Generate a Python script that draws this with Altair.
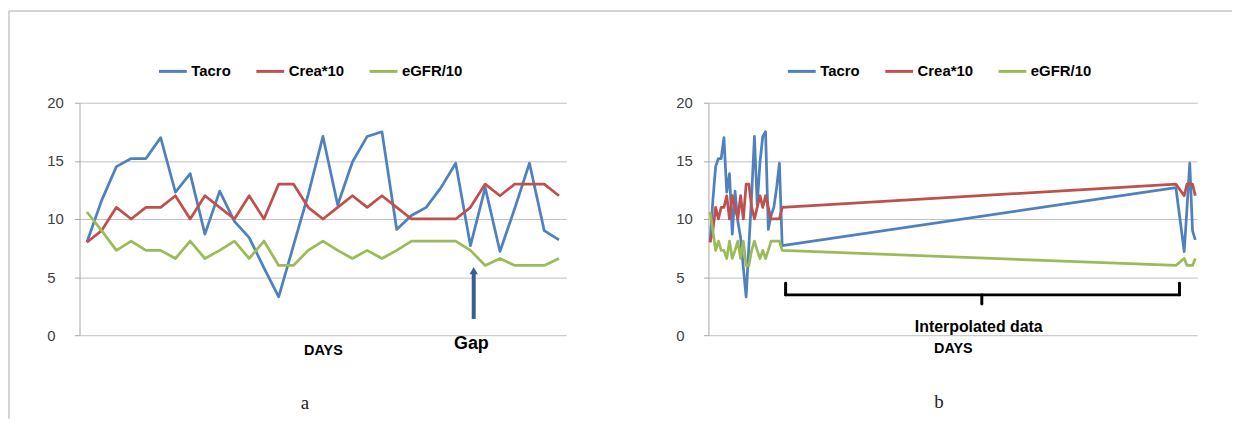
import altair as alt
import pandas as pd

# ---------------- data ----------------
series_names = ["Tacro", "Crea*10", "eGFR/10"]
series_colors = ["#4F81BD", "#C0504D", "#9BBB59"]

tacro = [8.0, 11.6, 14.5, 15.2, 15.2, 17.0, 12.3, 13.9, 8.7, 12.4, 9.8, 8.4, 5.8,
         3.3, 7.7, 12.1, 17.1, 11.2, 14.9, 17.1, 17.5, 9.1, 10.3, 11.0, 12.7, 14.8,
         7.7, 12.7, 7.2, 10.9, 14.8, 9.0, 8.2]
crea10 = [8, 9, 11, 10, 11, 11, 12, 10, 12, 11, 10, 12, 10, 13, 13, 11, 10, 11, 12,
          11, 12, 11, 10, 10, 10, 10, 11, 13, 12, 13, 13, 13, 12]
egfr10 = [10.6, 9.0, 7.3, 8.1, 7.3, 7.3, 6.6, 8.1, 6.6, 7.3, 8.1, 6.6, 8.1, 6.0,
          6.0, 7.3, 8.1, 7.3, 6.6, 7.3, 6.6, 7.3, 8.1, 8.1, 8.1, 8.1, 7.3, 6.0, 6.6,
          6.0, 6.0, 6.0, 6.6]
visit_index = [0, 1, 2, 3, 4, 5, 6, 7, 8, 9, 10, 11, 12, 13, 14, 15, 16, 17, 18, 19,
               20, 21, 22, 23, 24, 25, 26, 27, 28, 29, 30, 31, 32]
days = [0, 1, 2, 3, 4, 5, 6, 7, 8, 9, 10, 11, 12, 13, 14, 15, 16, 17, 18, 19, 20,
        21, 22, 23, 24, 25, 26, 168, 171, 172, 173, 174, 175]
y_ticks = [0, 5, 10, 15, 20]

rows = []
for name, vals in zip(series_names, [tacro, crea10, egfr10]):
    for i, v in enumerate(vals):
        rows.append({"series": name, "idx": visit_index[i], "day": days[i], "value": v})
df = pd.DataFrame(rows)

FONT = "Liberation Sans"
SERIF = "Liberation Serif"
ARROW = "#3A5E8E"
BORDER = "#c6c6c6"
one = pd.DataFrame({"k": [0]})

y_axis = alt.Axis(values=y_ticks, title=None, grid=True, gridColor="#c0c0c0",
                  gridWidth=1, domain=True, domainColor="#a6a6a6", ticks=True,
                  tickColor="#a6a6a6", tickSize=5, labelAlign="left",
                  labelPadding=28, labelFont=FONT, labelFontSize=15,
                  labelColor="#404040")
y_scale = alt.Scale(domain=[0, 20], nice=False)


def y_enc():
    return alt.Y("value:Q", scale=y_scale, axis=y_axis)


def color_enc():
    return alt.Color(
        "series:N", sort=series_names,
        scale=alt.Scale(domain=series_names, range=series_colors),
        legend=alt.Legend(title=None, orient="none", legendX=78.5, legendY=-47.3,
                          direction="horizontal", symbolType="stroke", symbolSize=784,
                          symbolStrokeWidth=3, labelFont=FONT, labelFontSize=15,
                          labelFontWeight="bold", labelColor="black", labelOffset=3,
                          columnPadding=19, padding=0),
    )


def x_axis(pad):
    return alt.Axis(title="DAYS", labels=False, ticks=False, domain=False, grid=False,
                    titleFont=FONT, titleFontSize=14.5, titleFontWeight="bold",
                    titleColor="black", titlePadding=pad)


# ---------------- panel a ----------------
xa_scale = alt.Scale(domain=[-0.5, 32.5], nice=False, zero=False)


def xa_enc():
    return alt.X("idx:Q", scale=xa_scale, axis=x_axis(8.5))


lines_a = alt.Chart(df).mark_line(strokeWidth=2.75, strokeJoin="round").encode(
    x=xa_enc(), y=y_enc(), color=color_enc())
border_left = alt.Chart(one).mark_rule(color=BORDER, strokeWidth=1.5).encode(
    x=alt.value(-71), y=alt.value(-92.3), y2=alt.value(318))
border_top = alt.Chart(one).mark_rule(color=BORDER, strokeWidth=1.5).encode(
    x=alt.value(-71), x2=alt.value(1160), y=alt.value(-92.3))

shaft = alt.Chart(pd.DataFrame({"idx": [26.22], "value": [1.4], "value2": [5.4]})).mark_rule(
    color=ARROW, strokeWidth=4).encode(x=xa_enc(), y=y_enc(), y2="value2:Q")
head = alt.Chart(pd.DataFrame({"idx": [26.22], "value": [5.55]})).mark_point(
    shape="triangle-up", filled=True, size=70, color=ARROW, opacity=1).encode(
    x=xa_enc(), y=y_enc())
gap_text = alt.Chart(pd.DataFrame({"idx": [26.06], "value": [-0.72]})).mark_text(
    text="Gap", font=FONT, fontSize=18, fontWeight="bold", color="black",
    baseline="middle").encode(x=xa_enc(), y=y_enc())
cap_a = alt.Chart(one).mark_text(text="a", font=SERIF, fontSize=19, color="#222222",
                                 baseline="middle").encode(
    x=alt.value(227), y=alt.value(302.7))

panel_a = alt.layer(lines_a, border_left, border_top, shaft, head, gap_text, cap_a).properties(
    width=490, height=234)

# ---------------- panel b ----------------
xb_scale = alt.Scale(domain=[-0.6, 175.7], nice=False, zero=False)


def xb_enc():
    return alt.X("day:Q", scale=xb_scale, axis=x_axis(6.5))


lines_b = alt.Chart(df).mark_line(strokeWidth=2.75, strokeJoin="round").encode(
    x=xb_enc(), y=y_enc(), color=color_enc())
bracket = pd.DataFrame({
    "day": [27.24, 169.3, 27.24, 98.0],
    "day2": [169.3, 169.3, 27.24, 98.0],
    "value": [3.47, 3.47, 3.47, 3.47],
    "value2": [3.47, 4.47, 4.47, 2.68],
})
bracket_rules = alt.Chart(bracket).mark_rule(color="black", strokeWidth=3,
                                             strokeCap="round").encode(
    x=xb_enc(), x2="day2:Q", y=y_enc(), y2="value2:Q")
interp_text = alt.Chart(pd.DataFrame({"day": [96.9], "value": [0.68]})).mark_text(
    text="Interpolated data", font=FONT, fontSize=16, fontWeight="bold", color="black",
    baseline="middle").encode(x=xb_enc(), y=y_enc())
cap_b = alt.Chart(one).mark_text(text="b", font=SERIF, fontSize=19, color="#222222",
                                 baseline="middle").encode(
    x=alt.value(232), y=alt.value(301.7))

panel_b = alt.layer(lines_b, bracket_rules, interp_text, cap_b).properties(
    width=492, height=234)

chart = alt.hconcat(panel_a, panel_b, spacing=143, bounds="flush").resolve_scale(
    color="independent").properties(
    padding={"left": 0, "top": 0, "right": 0, "bottom": 0},
    background="white",
).configure_view(strokeWidth=0)

chart.save("out.html", embed_options={"renderer": "svg", "actions": False})
